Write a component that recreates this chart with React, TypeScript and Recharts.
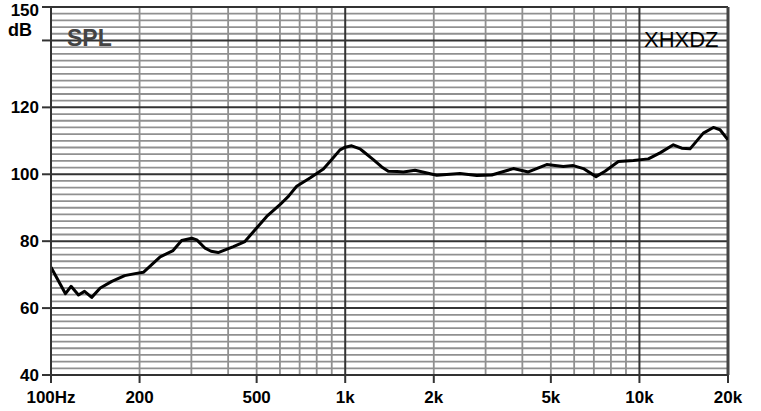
import React from "react";
import { LineChart, Line, XAxis, YAxis, ReferenceLine } from "recharts";

// frequency response
const freqs = [
  100, 112, 117, 124, 130, 137.5, 147, 161, 178, 193, 206, 220, 235, 260, 278, 301, 313, 334,
  350, 370, 417, 456, 494, 541, 600, 641, 684, 759, 843, 900, 960, 1000, 1052, 1123, 1152, 1246,
  1331, 1401, 1500, 1576, 1727, 2047, 2455, 2800, 3148, 3727, 4192, 4840, 5510, 5960, 6450,
  7120, 7640, 8480, 9540, 10720, 11750, 13040, 13920, 14860, 16490, 17830, 18790, 20000,
];
const spl = [
  72.2, 64.3, 66.5, 63.9, 65, 63.2, 66, 68, 69.7, 70.3, 70.7, 73, 75.3, 77.2, 80.2, 80.9, 80.4,
  77.9, 77.0, 76.6, 78.4, 79.9, 83.4, 87.4, 90.9, 93.4, 96.4, 98.9, 101.6, 104.4, 107.3, 108.1, 108.5,
  107.6, 106.8, 104.4, 102.2, 100.9, 100.8, 100.7, 101.2, 99.7, 100.2, 99.6, 99.8, 101.7, 100.7,
  102.9, 102.3, 102.6, 101.7, 99.3, 100.9, 103.8, 104.1, 104.6, 106.4, 108.8, 107.8, 107.6,
  112.3, 114, 113.3, 110.3,
];

const xTicks = [100, 200, 500, 1000, 2000, 5000, 10000, 20000];
const xTickLabels = ["100Hz", "200", "500", "1k", "2k", "5k", "10k", "20k"];
const yTicks = [40, 60, 80, 100, 120, 140, 150];
const yLabelled = [40, 60, 80, 100, 120, 150];

const minorFreqs = [
  200, 300, 400, 500, 600, 700, 800, 900, 2000, 3000, 4000, 5000, 6000, 7000, 8000, 9000,
];
const majorFreqs = [1000, 10000];
const minorDb = Array.from({ length: 54 }, (_, i) => 42 + i * 2).filter((v) => v % 20 !== 0);
const majorDb = [60, 80, 100, 120, 140];

const data = freqs.map((f, i) => ({ f, db: spl[i] }));

const tickFont = {
  fontFamily: "'Liberation Sans', Arial, sans-serif",
  fontSize: 17,
  fontWeight: "bold" as const,
  fill: "#000",
};

export default function App() {
  return (
    <div style={{ position: "absolute", left: 0, top: 0, width: 761, height: 411, background: "#fff" }}>
      <LineChart width={761} height={411} data={data} margin={{ top: 7, right: 33, bottom: 0, left: 0 }}>
        <XAxis
          dataKey="f"
          type="number"
          scale="log"
          domain={[100, 20000]}
          ticks={xTicks}
          tickFormatter={(v: number) => xTickLabels[xTicks.indexOf(v)] ?? ""}
          height={36}
          tickSize={8}
          tickMargin={8}
          axisLine={{ stroke: "#333", strokeWidth: 2 }}
          tickLine={{ stroke: "#333", strokeWidth: 2 }}
          tick={tickFont}
          allowDataOverflow
        />
        <YAxis
          type="number"
          domain={[40, 150]}
          ticks={yTicks}
          tickFormatter={(v: number) => (yLabelled.includes(v) ? String(v) : "")}
          width={51}
          tickSize={9}
          tickMargin={3}
          axisLine={{ stroke: "#333", strokeWidth: 2 }}
          tickLine={{ stroke: "#333", strokeWidth: 2 }}
          tick={tickFont}
          allowDataOverflow
        />
        {minorDb.map((v) => (
          <ReferenceLine key={"hy" + v} y={v} stroke="#909090" strokeWidth={1.8} />
        ))}
        {minorFreqs.map((v) => (
          <ReferenceLine key={"vx" + v} x={v} stroke="#909090" strokeWidth={1.8} />
        ))}
        {majorDb.map((v) => (
          <ReferenceLine key={"My" + v} y={v} stroke="#333" strokeWidth={2} />
        ))}
        {majorFreqs.map((v) => (
          <ReferenceLine key={"Mx" + v} x={v} stroke="#333" strokeWidth={2} />
        ))}
        <ReferenceLine y={150} stroke="#333" strokeWidth={2} />
        <ReferenceLine x={20000} stroke="#444" strokeWidth={3} />
        <Line
          dataKey="db"
          type="linear"
          stroke="#000"
          strokeWidth={3}
          strokeLinejoin="round"
          dot={false}
          isAnimationActive={false}
        />
      </LineChart>
      <div style={{ position: "absolute", left: 8, top: 20, fontFamily: "'Liberation Sans', Arial, sans-serif", fontSize: 18, fontWeight: "bold", color: "#000" }}>
        dB
      </div>
      <div style={{ position: "absolute", left: 67, top: 25, fontFamily: "'Liberation Sans', Arial, sans-serif", fontSize: 23, fontWeight: "bold", color: "#444", lineHeight: "26px" }}>
        SPL
      </div>
      <div style={{ position: "absolute", left: 644, top: 27, fontFamily: "'Liberation Sans', Arial, sans-serif", fontSize: 22, color: "#000", lineHeight: "26px" }}>
        XHXDZ
      </div>
    </div>
  );
}
